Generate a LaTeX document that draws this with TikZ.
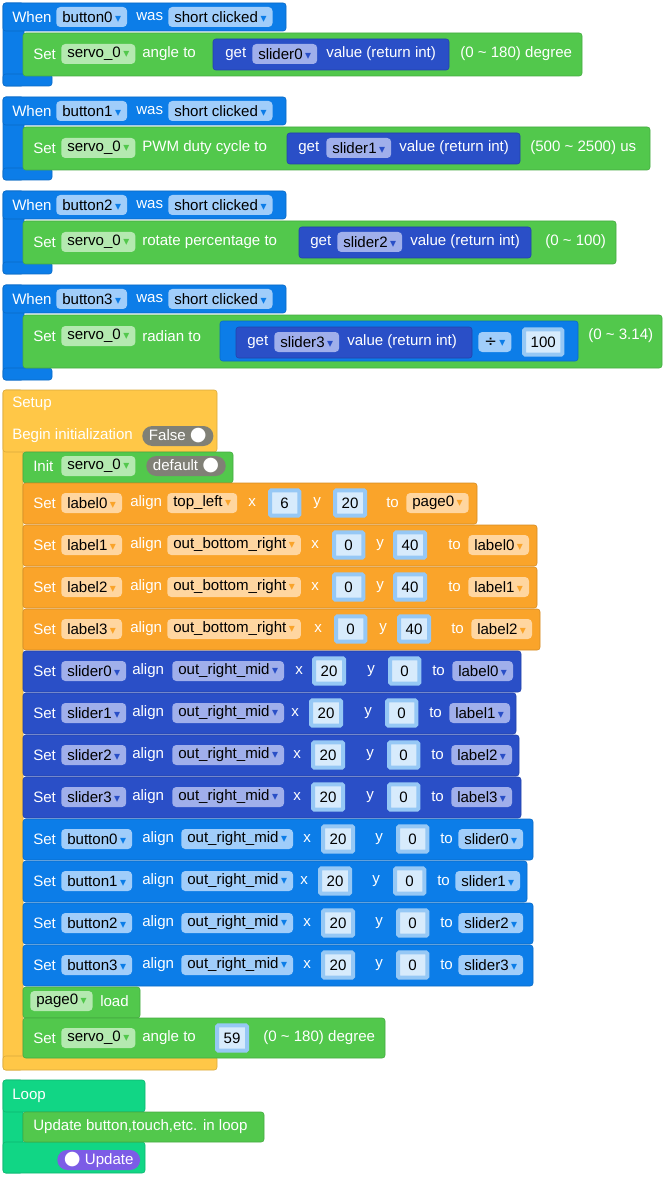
\documentclass[tikz,border=0pt]{standalone}
\usepackage{fontspec}
\setmainfont{Liberation Sans}
\newfontfamily\dejavu{DejaVu Sans}
\definecolor{evblue}{RGB}{12,125,232}
\definecolor{evfield}{RGB}{160,205,250}
\definecolor{sgreen}{RGB}{82,200,76}
\definecolor{gfield}{RGB}{180,233,176}
\definecolor{getblue}{RGB}{42,79,199}
\definecolor{getfield}{RGB}{160,175,235}
\definecolor{orng}{RGB}{250,164,42}
\definecolor{ofield}{RGB}{255,214,160}
\definecolor{yel}{RGB}{255,199,71}
\definecolor{loopg}{RGB}{17,214,133}
\definecolor{purp}{RGB}{124,92,230}
\definecolor{numout}{RGB}{150,200,245}
\definecolor{numin}{RGB}{215,235,252}
\definecolor{togg}{RGB}{128,128,118}
\newcommand{\dar}[1]{\,{\dejavu\small\color{#1}▾}}
\newcommand{\togdot}{{\dejavu\Large\color{white}●}}
\newcommand{\blk}[5]{\filldraw[#5, draw=#5!85!black, line width=0.4pt, rounded corners=2pt] (#1,#2) rectangle (#3,#4);}
\tikzset{
  t/.style={anchor=west, inner sep=0pt, text=white},
  dd/.style={anchor=west, fill=#1, text=black, rounded corners=3pt, inner xsep=4.5pt, inner ysep=0pt, minimum height=15pt},
  num/.style={anchor=west, fill=numin, draw=numout, line width=3pt, text=black, rounded corners=1pt, inner xsep=5pt, inner ysep=0pt, minimum height=19pt, minimum width=22pt},
  tog/.style={anchor=west, fill=togg, text=white, rounded corners=7.5pt, inner xsep=5pt, inner ysep=0pt, minimum height=15pt},
}
\begin{document}
\begin{tikzpicture}[x=0.75pt, y=-0.75pt, font=\fontsize{11.3}{13}\selectfont]
\useasboundingbox (0,0) rectangle (668,1180);
% event 0
\blk{3}{3}{24}{86}{evblue}
\blk{3}{74}{52}{86}{evblue}
\blk{3}{3}{286}{31}{evblue}
\blk{23}{33}{582}{76}{sgreen}
\blk{213}{39}{449}{70}{getblue}
\node[t] (w0) at (12,17) {When};
\node[dd=evfield] (b0) at (56,17) {button0\dar{evblue}};
\node[t] (was0) at (136,17) {was};
\node[dd=evfield] (sc0) at (168,17) {short clicked\dar{evblue}};
\node[t] (s0) at (33,54) {Set};
\node[dd=gfield] (sv0) at (61,54) {servo\_0\dar{sgreen}};
\node[t] (a0) at (142,54) {angle to};
\node[t] (g0) at (225,54) {get};
\node[dd=getfield] (sl0) at (252,54) {slider0\dar{getblue}};
\node[t] (v0) at (326,54) {value (return int)};
\node[t] (r0) at (460,54) {(0 \textasciitilde{} 180) degree};
% event 1
\blk{3}{97}{24}{180}{evblue}
\blk{3}{168}{52}{180}{evblue}
\blk{3}{97}{286}{125}{evblue}
\blk{23}{127}{650}{170}{sgreen}
\blk{287}{133}{520}{164}{getblue}
\node[t] (w1) at (12,111) {When};
\node[dd=evfield] (b1) at (56,111) {button1\dar{evblue}};
\node[t] (was1) at (136,111) {was};
\node[dd=evfield] (sc1) at (168,111) {short clicked\dar{evblue}};
\node[t] (s1) at (33,148) {Set};
\node[dd=gfield] (sv1) at (61,148) {servo\_0\dar{sgreen}};
\node[t] (a1) at (142,148) {PWM duty cycle to};
\node[t] (g1) at (298,148) {get};
\node[dd=getfield] (sl1) at (326,148) {slider1\dar{getblue}};
\node[t] (v1) at (399,148) {value (return int)};
\node[t] (r1) at (530,148) {(500 \textasciitilde{} 2500) us};
% event 2
\blk{3}{191}{24}{274}{evblue}
\blk{3}{262}{52}{274}{evblue}
\blk{3}{191}{286}{219}{evblue}
\blk{23}{221}{616}{264}{sgreen}
\blk{299}{227}{531}{258}{getblue}
\node[t] (w2) at (12,205) {When};
\node[dd=evfield] (b2) at (56,205) {button2\dar{evblue}};
\node[t] (was2) at (136,205) {was};
\node[dd=evfield] (sc2) at (168,205) {short clicked\dar{evblue}};
\node[t] (s2) at (33,242) {Set};
\node[dd=gfield] (sv2) at (61,242) {servo\_0\dar{sgreen}};
\node[t] (a2) at (142,242) {rotate percentage to};
\node[t] (g2) at (310,242) {get};
\node[dd=getfield] (sl2) at (337,242) {slider2\dar{getblue}};
\node[t] (v2) at (410,242) {value (return int)};
\node[t] (r2) at (545,242) {(0 \textasciitilde{} 100)};
% event 3
\blk{3}{285}{24}{380}{evblue}
\blk{3}{368}{52}{380}{evblue}
\blk{3}{285}{286}{313}{evblue}
\blk{23}{315}{662}{368}{sgreen}
\blk{220}{321}{578}{361}{evblue}
\blk{236}{327}{472}{358}{getblue}
\node[t] (w3) at (12,299) {When};
\node[dd=evfield] (b3) at (56,299) {button3\dar{evblue}};
\node[t] (was3) at (136,299) {was};
\node[dd=evfield] (sc3) at (168,299) {short clicked\dar{evblue}};
\node[t] (s3) at (33,336) {Set};
\node[dd=gfield] (sv3) at (61,336) {servo\_0\dar{sgreen}};
\node[t] (a3) at (142,336) {radian to};
\node[t] (g3) at (247,342) {get};
\node[dd=getfield] (sl3) at (274,342) {slider3\dar{getblue}};
\node[t] (v3) at (347,342) {value (return int)};
\node[dd=evfield] (op3) at (478,342) {\dejavu ÷\dar{evblue}};
\node[num] (n3) at (522,342) {100};
\node[t] (r3) at (588,336) {(0 \textasciitilde{} 3.14)};
% setup
\blk{3}{390}{23}{1070}{yel}
\blk{3}{1056}{217}{1070}{yel}
\blk{3}{390}{217}{452}{yel}
\node[t] (setup) at (12,404) {Setup};
\node[t] (begin) at (12,436) {Begin initialization};
\node[tog] (fls) at (142,436) {False\ \togdot};
\blk{23}{452}{233}{483}{sgreen}
\node[t] (init) at (33,466) {Init};
\node[dd=gfield] (isv) at (61,466) {servo\_0\dar{sgreen}};
\node[tog] (dflt) at (146,466) {default\ \togdot};
% labels
\foreach \i/\yt/\xr/\al/\xx/\nx/\xy/\ny/\xt/\xp/\nv/\mv/\tgt in {%
  0/503/477/top\_left/248/268/313/333/386/406/6/20/page0,
  1/545/537/out\_bottom\_right/311/332/376/393/448/468/0/40/label0,
  2/587/537/out\_bottom\_right/311/332/376/393/448/468/0/40/label1,
  3/629/540/out\_bottom\_right/314/334/379/397/451/471/0/40/label2}{
  \blk{23}{\yt-20}{\xr}{\yt+21}{orng}
  \node[t] (ls\i) at (33,\yt) {Set};
  \node[dd=ofield] (ln\i) at (61,\yt) {label\i\dar{orng}};
  \node[t] (la\i) at (130,\yt) {align};
  \node[dd=ofield] (lal\i) at (167,\yt) {\al\dar{orng}};
  \node[t] (lx\i) at (\xx,\yt) {x};
  \node[num] (lnx\i) at (\nx,\yt) {\nv};
  \node[t] (ly\i) at (\xy,\yt) {y};
  \node[num] (lny\i) at (\ny,\yt) {\mv};
  \node[t] (lt\i) at (\xt,\yt) {to};
  \node[dd=ofield] (lp\i) at (\xp,\yt) {\tgt\dar{orng}};
}
% sliders
\foreach \i/\yt/\xr/\xx/\nx/\xy/\ny/\xt/\xp in {%
  0/671/521/295/312/367/388/432/452,
  1/713/516/291/309/364/385/429/449,
  2/755/519/293/311/366/387/431/451,
  3/797/521/293/311/366/387/431/451}{
  \blk{23}{\yt-20}{\xr}{\yt+21}{getblue}
  \node[t] (ss\i) at (33,\yt) {Set};
  \node[dd=getfield] (sn\i) at (61,\yt) {slider\i\dar{getblue}};
  \node[t] (sa\i) at (132,\yt) {align};
  \node[dd=getfield] (sal\i) at (172,\yt) {out\_right\_mid\dar{getblue}};
  \node[t] (sx\i) at (\xx,\yt) {x};
  \node[num] (snx\i) at (\nx,\yt) {20};
  \node[t] (sy\i) at (\xy,\yt) {y};
  \node[num] (sny\i) at (\ny,\yt) {0};
  \node[t] (st\i) at (\xt,\yt) {to};
  \node[dd=getfield] (sp\i) at (\xp,\yt) {label\i\dar{getblue}};
}
% buttons
\foreach \i/\yt/\xr/\xx/\nx/\xy/\ny/\xt/\xp in {%
  0/839/533/303/321/375/396/440/458,
  1/881/527/300/318/372/393/437/455,
  2/923/533/303/321/375/396/440/458,
  3/965/533/303/321/375/396/440/458}{
  \blk{23}{\yt-20}{\xr}{\yt+21}{evblue}
  \node[t] (bs\i) at (33,\yt) {Set};
  \node[dd=evfield] (bn\i) at (61,\yt) {button\i\dar{evblue}};
  \node[t] (ba\i) at (142,\yt) {align};
  \node[dd=evfield] (bal\i) at (181,\yt) {out\_right\_mid\dar{evblue}};
  \node[t] (bx\i) at (\xx,\yt) {x};
  \node[num] (bnx\i) at (\nx,\yt) {20};
  \node[t] (by\i) at (\xy,\yt) {y};
  \node[num] (bny\i) at (\ny,\yt) {0};
  \node[t] (bt\i) at (\xt,\yt) {to};
  \node[dd=evfield] (bp\i) at (\xp,\yt) {slider\i\dar{evblue}};
}
% page load and servo
\blk{23}{987}{140}{1018}{sgreen}
\node[dd=gfield] (pg) at (30,1001) {page0\dar{sgreen}};
\node[t] (load) at (100,1001) {load};
\blk{23}{1018}{385}{1058}{sgreen}
\node[t] (ps) at (33,1038) {Set};
\node[dd=gfield] (psv) at (61,1038) {servo\_0\dar{sgreen}};
\node[t] (pa) at (142,1038) {angle to};
\node[num] (pn) at (215,1038) {59};
\node[t] (pr) at (263,1038) {(0 \textasciitilde{} 180) degree};
% loop
\blk{3}{1080}{23}{1173}{loopg}
\blk{3}{1142}{145}{1173}{loopg}
\blk{3}{1080}{145}{1112}{loopg}
\node[t] (loop) at (12,1096) {Loop};
\blk{23}{1112}{264}{1142}{sgreen}
\node[t] (upd) at (33,1127) {Update button,touch,etc. in loop};
\node[tog, fill=purp] (updp) at (57,1160) {\togdot\ Update};
\end{tikzpicture}
\end{document}
